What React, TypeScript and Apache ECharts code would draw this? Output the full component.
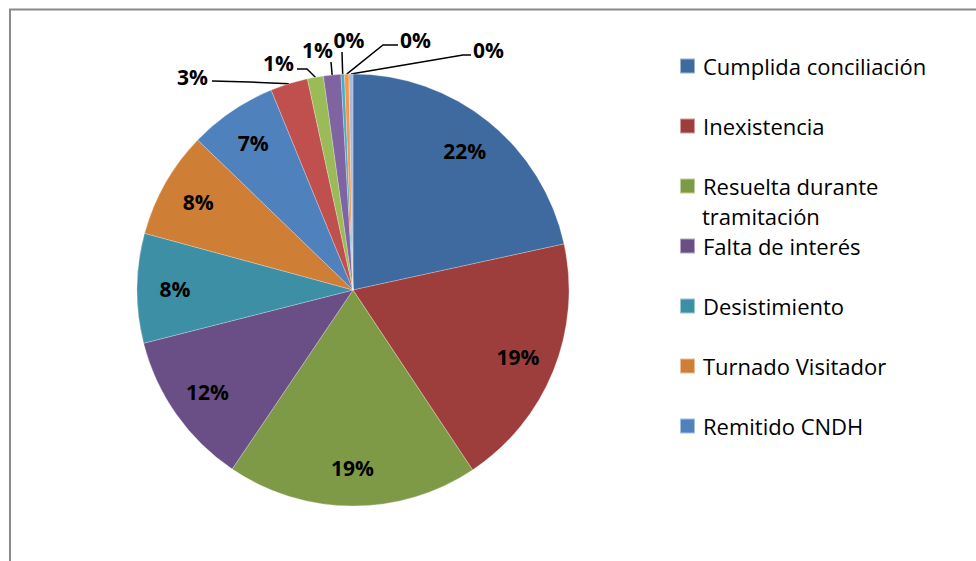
import React, { useEffect, useRef } from 'react';
import * as echarts from 'echarts';

const categories = [
  'Cumplida conciliación',
  'Inexistencia',
  'Resuelta durante tramitación',
  'Falta de interés',
  'Desistimiento',
  'Turnado Visitador',
  'Remitido CNDH',
  'Otra causa 1',
  'Otra causa 2',
  'Otra causa 3',
  'Otra causa 4',
  'Otra causa 5',
  'Otra causa 6',
];
const values = [21.6, 19.1, 18.8, 11.6, 8.2, 8.0, 6.6, 2.8, 1.2, 1.3, 0.26, 0.33, 0.3];
const colors = [
  '#3E6A9F', '#9E3E3C', '#7F9A47', '#6A4F87', '#3D8FA5', '#CF7E36', '#4F81BD',
  '#C0504D', '#9BBB59', '#8064A2', '#4BACC6', '#F79646', '#A5BCDD',
];
const legendNames = categories.slice(0, 7);
const smallLimit = 4;

const FONT = 'Open Sans';
const LEGEND_SIZE = 22;

// label anchors for the thin slices (layout only)
const smallLabelLayout: Record<number, { x: number; y: number; align: string; elbow: number[]; end: number[] }> = {
  7: { x: 208, y: 77, align: 'right', elbow: [250, 82], end: [212, 81] },
  8: { x: 294, y: 63, align: 'right', elbow: [307, 69], end: [297, 69] },
  9: { x: 333, y: 50, align: 'right', elbow: [331, 62], end: [331, 62] },
  10: { x: 349, y: 40, align: 'center', elbow: [342, 52], end: [342, 52] },
  11: { x: 400, y: 40, align: 'left', elbow: [383, 45], end: [398, 45] },
  12: { x: 473, y: 50, align: 'left', elbow: [463, 55], end: [471, 55] },
};

export default function App() {
  const ref = useRef<HTMLDivElement>(null);
  useEffect(() => {
    if (!ref.current) return;
    const chart = echarts.init(ref.current, undefined, { renderer: 'svg' });
    const fmt = (p: any) => Math.round(p.percent) + '%';
    const mainData = categories.map((name, i) => ({
      name,
      value: values[i],
      itemStyle: { color: colors[i] },
      label: { show: values[i] < smallLimit },
      labelLine: { show: values[i] < smallLimit },
    }));
    const overlayData = categories.map((name, i) => ({
      name,
      value: values[i],
      label: { show: values[i] >= smallLimit },
    }));
    chart.setOption({
      animation: false,
      backgroundColor: '#fff',
      graphic: [
        {
          type: 'rect',
          z: -10,
          shape: { x: 10, y: 9.5, width: 1000, height: 600 },
          style: { fill: 'none', stroke: '#8a8a8a', lineWidth: 2 },
        },
        {
          type: 'text',
          x: 702,
          y: 216,
          style: {
            text: 'tramitación',
            font: `${LEGEND_SIZE}px "${FONT}"`,
            fill: '#000',
            verticalAlign: 'middle',
            align: 'left',
          },
        },
      ],
      legend: {
        orient: 'vertical',
        left: 679,
        top: 51,
        padding: 0,
        icon: 'rect',
        itemWidth: 15,
        itemHeight: 15,
        itemGap: 30,
        data: legendNames,
        formatter: (n: string) => (n === 'Resuelta durante tramitación' ? 'Resuelta durante' : n),
        textStyle: { fontFamily: FONT, fontSize: LEGEND_SIZE, lineHeight: 30, color: '#000', padding: [0, 0, 0, 3] },
        selectedMode: false,
      },
      series: [
        {
          type: 'pie',
          center: [353, 290],
          radius: 216,
          startAngle: 90,
          clockwise: true,
          avoidLabelOverlap: false,
          itemStyle: { borderColor: 'rgba(255,255,255,0.5)', borderWidth: 0.5 },
          label: {
            position: 'outside',
            formatter: fmt,
            fontFamily: FONT,
            fontWeight: 'bold',
            fontSize: 21,
            color: '#000',
          },
          labelLine: { length: 12, length2: 20, lineStyle: { color: '#000', width: 1.5 } },
          labelLayout: (p: any) => {
            const s = smallLabelLayout[p.dataIndex];
            if (!s || !p.labelLinePoints) return {};
            const start = p.labelLinePoints[0];
            return {
              x: s.x,
              y: s.y,
              align: s.align,
              verticalAlign: 'middle',
              labelLinePoints: [start, s.elbow, s.end],
            };
          },
          data: mainData,
        },
        {
          type: 'pie',
          center: [353, 290],
          radius: [134, 216],
          startAngle: 90,
          clockwise: true,
          silent: true,
          itemStyle: { color: 'rgba(0,0,0,0)' },
          label: {
            position: 'inside',
            formatter: fmt,
            fontFamily: FONT,
            fontWeight: 'bold',
            fontSize: 21,
            color: '#000',
          },
          labelLine: { show: false },
          data: overlayData,
        },
      ],
    });
    return () => chart.dispose();
  }, []);
  return <div ref={ref} style={{ position: 'absolute', left: 0, top: 0, width: 976, height: 561 }} />;
}
